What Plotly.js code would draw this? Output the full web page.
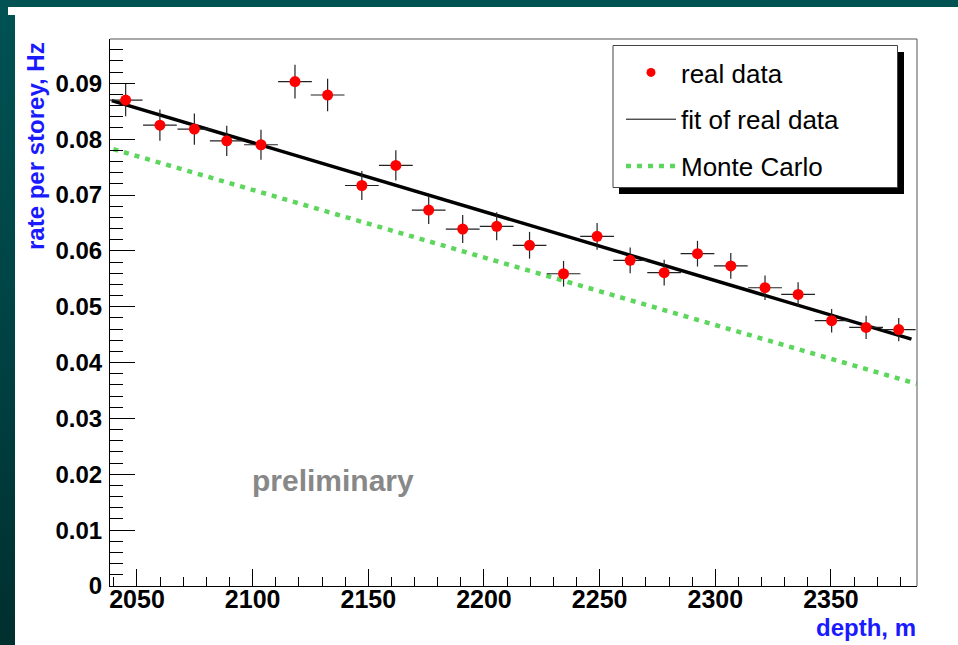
<!DOCTYPE html>
<html>
<head>
<meta charset="utf-8">
<script src="https://cdn.plot.ly/plotly-3.0.1.min.js"></script>
<style>
  html, body { margin: 0; padding: 0; }
  body { width: 958px; height: 645px; position: relative; overflow: hidden;
         background: linear-gradient(to bottom, #005253 0%, #004345 50%, #002f2e 100%); }
  #white1 { position: absolute; left: 15px; top: 7px; right: 0; bottom: 0; background: #ffffff; }
  #white2 { position: absolute; left: 8px; top: 7px; width: 8px; height: 8px; background: #ffffff; }
  #chart { position: absolute; left: 0; top: 0; width: 958px; height: 645px; }
</style>
</head>
<body>
<div id="white1"></div>
<div id="white2"></div>
<div id="chart"></div>
<script>
// depth of each storey (m) and measured rate (Hz)
const depth = [2045.1, 2059.9, 2074.8, 2088.8, 2103.6, 2118.3, 2132.4, 2147.2, 2161.9, 2176.1, 2190.8, 2205.5,
               2219.7, 2234.4, 2248.9, 2263.2, 2277.9, 2292.3, 2306.7, 2321.5, 2335.8, 2350.3, 2365.2, 2379.3];
const rate  = [0.0870, 0.0825, 0.0818, 0.0797, 0.0790, 0.0903, 0.0879, 0.0717, 0.0753, 0.0673, 0.0639, 0.0644,
               0.0610, 0.0559, 0.0626, 0.0583, 0.0561, 0.0595, 0.0573, 0.0534, 0.0522, 0.0475, 0.0463, 0.0459];
const rateErr = [0.0029, 0.0028, 0.0028, 0.0027, 0.0027, 0.0030, 0.0029, 0.0026, 0.0027, 0.0025, 0.0025, 0.0025,
                 0.0024, 0.0023, 0.0024, 0.0023, 0.0023, 0.0023, 0.0023, 0.0022, 0.0022, 0.0021, 0.0021, 0.0021];
const depthHalfBin = 7.3;

// fit of real data (straight line)
const fitDepth = [2039.1, 2384.8];
const fitRate  = [0.0869, 0.0442];

// Monte Carlo expectation
const mcDepth = [2039.8, 2387.0];
const mcRate  = [0.0782, 0.0362];

const legendNames = ['real data', 'fit of real data', 'Monte Carlo'];

const FONT = 'Liberation Sans, Arial, sans-serif';
const MC_LINE = { color: '#5cd65c', width: 4.5, dash: '5px,6px' };

const traces = [
  {
    x: mcDepth, y: mcRate, mode: 'lines', name: legendNames[2], showlegend: false,
    line: MC_LINE, hoverinfo: 'skip'
  },
  {
    x: fitDepth, y: fitRate, mode: 'lines', name: legendNames[1], showlegend: false,
    line: { color: '#000000', width: 3.5 }, hoverinfo: 'skip'
  },
  {
    x: depth, y: rate, mode: 'markers', name: legendNames[0], showlegend: false,
    marker: { color: '#ff0000', size: 11 },
    error_x: { type: 'constant', value: depthHalfBin, thickness: 1.2, width: 0, color: '#222222' },
    error_y: { type: 'data', array: rateErr, visible: true, thickness: 1.2, width: 0, color: '#222222' }
  },
  // legend entries
  { x: [null], y: [null], mode: 'markers', name: legendNames[0], legendgroup: 'a',
    marker: { color: '#ff0000', size: 9 } },
  { x: [null], y: [null], mode: 'lines', name: legendNames[1], legendgroup: 'b',
    line: { color: '#000000', width: 1 } },
  { x: [null], y: [null], mode: 'lines', name: legendNames[2], legendgroup: 'c',
    line: MC_LINE }
];

const L = 110, T = 39, W = 807, H = 547;
const px = v => (v - L) / W;
const py = v => (T + H - v) / H;

const layout = {
  width: 958, height: 645,
  margin: { l: L, r: 958 - L - W, t: T, b: 645 - T - H },
  paper_bgcolor: 'rgba(0,0,0,0)',
  plot_bgcolor: '#ffffff',
  font: { family: FONT, color: '#000000' },
  showlegend: true,
  legend: {
    x: px(621), y: py(49), xanchor: 'left', yanchor: 'top',
    bgcolor: 'rgba(0,0,0,0)', borderwidth: 0,
    font: { family: FONT, size: 26, color: '#000000' },
    itemwidth: 50, traceorder: 'grouped', tracegroupgap: 10
  },
  xaxis: {
    range: [2038.33, 2387.2], showgrid: false, zeroline: false,
    showline: true, linecolor: '#000000', linewidth: 1, mirror: false,
    ticks: 'inside', ticklen: 17, tickwidth: 1, tickcolor: '#000000', dtick: 50, tick0: 2050,
    minor: { ticks: 'inside', ticklen: 9, dtick: 10, tickcolor: '#000000', tickwidth: 1, showgrid: false },
    tickfont: { size: 25, weight: 'bold', family: FONT },
    ticklabelstandoff: -9
  },
  yaxis: {
    range: [0, 0.09793], showgrid: false, zeroline: false,
    showline: true, linecolor: '#000000', linewidth: 1, mirror: false,
    ticks: 'inside', ticklen: 25, tickwidth: 1, tickcolor: '#000000', dtick: 0.01, tick0: 0,
    minor: { ticks: 'inside', ticklen: 12.5, dtick: 0.002, tickcolor: '#000000', tickwidth: 1, showgrid: false },
    tickfont: { size: 24, weight: 'bold', family: FONT },
    ticklabelstandoff: 2
  },
  shapes: [
    { type: 'line', xref: 'paper', yref: 'paper', x0: 0, x1: 1, y0: 1, y1: 1, line: { color: '#555555', width: 1 } },
    { type: 'line', xref: 'paper', yref: 'paper', x0: 1, x1: 1, y0: 0, y1: 1, line: { color: '#555555', width: 1 } },
    { type: 'rect', xref: 'paper', yref: 'paper', layer: 'above',
      x0: px(619), x1: px(904), y0: py(194), y1: py(52), fillcolor: '#000000', line: { width: 0 } },
    { type: 'rect', xref: 'paper', yref: 'paper', layer: 'above',
      x0: px(613), x1: px(897.5), y0: py(187.5), y1: py(45.5), fillcolor: '#ffffff',
      line: { color: '#444444', width: 1 } }
  ],
  annotations: [
    { text: 'preliminary', xref: 'paper', yref: 'paper', x: px(333), y: py(480), showarrow: false,
      xanchor: 'center', yanchor: 'middle',
      font: { size: 30, weight: 'bold', color: '#888888', family: FONT } },
    { text: 'rate per storey, Hz', xref: 'paper', yref: 'paper', x: px(36), y: py(40), showarrow: false,
      textangle: -90, xanchor: 'center', yanchor: 'top',
      font: { size: 24, weight: 'bold', color: '#1a1aff', family: FONT } },
    { text: 'depth, m', xref: 'paper', yref: 'paper', x: px(918), y: py(627), showarrow: false,
      xanchor: 'right', yanchor: 'middle',
      font: { size: 24, weight: 'bold', color: '#1a1aff', family: FONT } }
  ]
};

Plotly.newPlot('chart', traces, layout, { displayModeBar: false, staticPlot: true });
</script>
</body>
</html>
